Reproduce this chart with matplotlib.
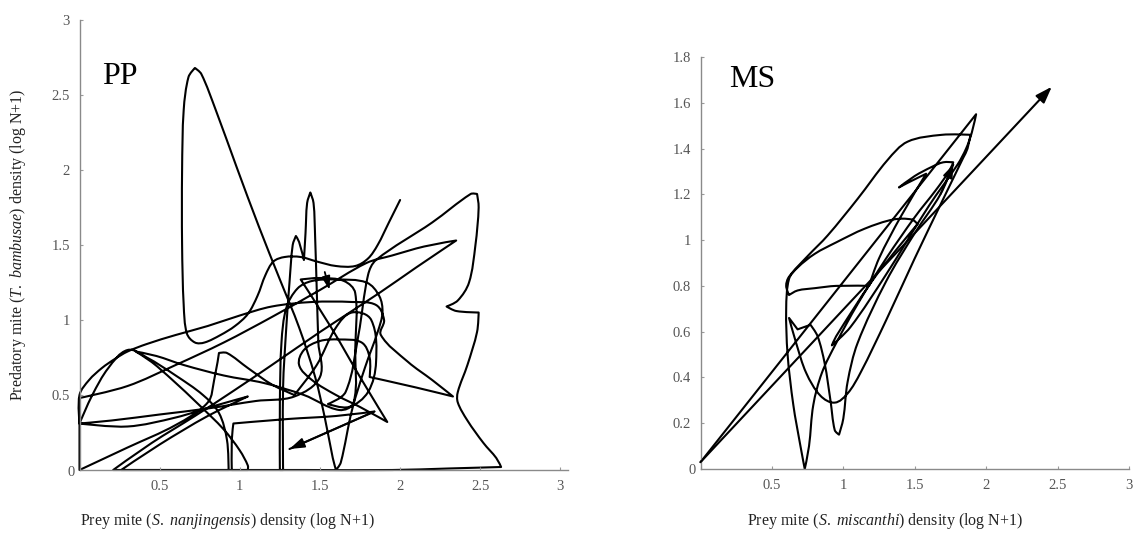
import matplotlib
matplotlib.use("Agg")
import matplotlib.pyplot as plt
import numpy as np
from matplotlib.path import Path
from matplotlib.patches import PathPatch
from matplotlib.transforms import offset_copy

plt.rcParams['font.family'] = ['Liberation Serif', 'DejaVu Serif']
plt.rcParams['mathtext.fontset'] = 'custom'
plt.rcParams['mathtext.rm'] = 'Liberation Serif'
plt.rcParams['mathtext.it'] = 'Liberation Serif:italic'

# ---------------- data: PP panel trajectory (prey, predator) ----------------
pp_trajectory = [
    (2.00, 1.80), (1.93, 1.65), (1.86, 1.50), (1.80, 1.41), (1.72, 1.36), (1.60, 1.36), (1.48, 1.39), (1.38, 1.42),
    (1.28, 1.42), (1.21, 1.39), (1.16, 1.30), (1.11, 1.16), (1.05, 1.04), (0.97, 0.96), (0.88, 0.90), (0.78, 0.85),
    (0.72, 0.85), (0.67, 0.91), (0.65, 1.10), (0.64, 1.50), (0.64, 2.00), (0.65, 2.40), (0.68, 2.62), (0.72, 2.68),
    (0.76, 2.64), (0.85, 2.40), (0.98, 2.02), (1.12, 1.62), (1.25, 1.27), (1.37, 0.95), (1.47, 0.62), (1.53, 0.35),
    (1.58, 0.08), (1.60, 0.00),
    (1.63, 0.05), (1.70, 0.40), (1.78, 0.68), (1.86, 0.92), (1.89, 1.05), (1.87, 1.16), (1.79, 1.25), (1.60, 1.27),
    (1.45, 1.26), (1.36, 1.21), (1.29, 1.08), (1.26, 0.85), (1.25, 0.45), (1.25, 0.00),
    (1.27, 0.00), (1.27, 0.55), (1.29, 0.95), (1.31, 1.25), (1.33, 1.50), (1.35, 1.56), (1.37, 1.52), (1.40, 1.40),
    (1.41, 1.58), (1.42, 1.78), (1.44, 1.85), (1.46, 1.78), (1.47, 1.55), (1.48, 1.20), (1.49, 0.85), (1.50, 0.62),
    (1.34, 0.49),
    (1.10, 0.46), (0.80, 0.41), (0.50, 0.37), (0.20, 0.33), (0.00, 0.31),
    (0.08, 0.50), (0.18, 0.68), (0.30, 0.80), (0.42, 0.75), (0.60, 0.63), (0.77, 0.50), (0.87, 0.38), (0.92, 0.20),
    (0.93, 0.00), (0.60, 0.00), (0.26, 0.00),
    (0.50, 0.17), (0.80, 0.36), (1.05, 0.49),
    (0.85, 0.43), (0.60, 0.35), (0.30, 0.29), (0.00, 0.31), (0.00, 0.50),
    (0.06, 0.60), (0.14, 0.68), (0.22, 0.74), (0.30, 0.79), (0.42, 0.84), (0.60, 0.90), (0.80, 0.96), (1.00, 1.03),
    (1.20, 1.09), (1.45, 1.12), (1.70, 1.12), (1.85, 1.10), (1.90, 1.00), (1.88, 0.90), (2.05, 0.72), (2.20, 0.60),
    (2.33, 0.49),
    (2.10, 0.55), (1.81, 0.62), (1.81, 0.75), (1.76, 0.85), (1.62, 0.87), (1.50, 0.86), (1.40, 0.80), (1.37, 0.70),
    (1.45, 0.60), (1.60, 0.50), (1.75, 0.42), (1.92, 0.32),
    (1.75, 0.62), (1.57, 0.95), (1.38, 1.27),
    (1.50, 1.28), (1.65, 1.26), (1.72, 1.18), (1.72, 0.80), (1.71, 0.45), (1.62, 0.40),
    (1.40, 0.50), (1.15, 0.58), (0.90, 0.63), (0.65, 0.70), (0.48, 0.76), (0.35, 0.79),
    (0.45, 0.72), (0.58, 0.60), (0.74, 0.44), (0.90, 0.27), (1.00, 0.13), (1.05, 0.03), (1.05, 0.00),
    (0.60, 0.00), (0.21, 0.00),
    (0.45, 0.18), (0.72, 0.36), (0.95, 0.52), (1.20, 0.70), (1.50, 0.92), (1.87, 1.18), (2.10, 1.35), (2.35, 1.53),
    (2.15, 1.49), (1.95, 1.43), (1.79, 1.38), (1.50, 1.20), (1.20, 1.02), (0.90, 0.85), (0.60, 0.70), (0.30, 0.56),
    (0.00, 0.48), (0.00, 0.00),
    (0.30, 0.15), (0.60, 0.30), (0.80, 0.45), (0.84, 0.60), (0.87, 0.78), (0.92, 0.78), (1.05, 0.68), (1.20, 0.57),
    (1.34, 0.50),
    (1.48, 0.70), (1.60, 0.95), (1.70, 1.05), (1.82, 1.00), (1.85, 0.72), (1.80, 0.52), (1.68, 0.42), (1.55, 0.44),
    (1.66, 0.52), (1.74, 0.90), (1.80, 1.30), (1.85, 1.40), (2.20, 1.65), (2.44, 1.84), (2.48, 1.84),
    (2.49, 1.75), (2.47, 1.50), (2.43, 1.25), (2.36, 1.13), (2.29, 1.09), (2.35, 1.06), (2.49, 1.05),
    (2.48, 0.92), (2.42, 0.70), (2.36, 0.52), (2.36, 0.45), (2.42, 0.33), (2.52, 0.18), (2.60, 0.08), (2.63, 0.02),
    (2.30, 0.01), (1.95, 0.00), (1.40, 0.00), (0.95, 0.00),
    (0.95, 0.20), (0.96, 0.31), (1.30, 0.34), (1.60, 0.36), (1.84, 0.39), (1.31, 0.14),
]
pp_mid_arrow = [(1.53, 1.32), (1.56, 1.20)]

# ---------------- data: MS panel trajectory (prey, predator) ----------------
ms_trajectory = [
    (0.00, 0.03), (1.93, 1.55), (1.90, 1.47), (1.86, 1.40), (1.80, 1.33), (1.60, 1.15), (1.30, 0.85), (1.05, 0.62),
    (0.92, 0.54),
    (0.95, 0.58), (1.20, 0.82), (1.40, 0.98), (1.52, 1.07), (1.48, 1.09), (1.35, 1.09), (1.15, 1.05), (0.95, 0.99),
    (0.80, 0.94), (0.68, 0.88), (0.62, 0.83),
    (0.60, 0.70), (0.61, 0.50), (0.65, 0.28), (0.70, 0.10), (0.73, 0.00),
    (0.76, 0.10), (0.79, 0.28), (0.85, 0.42), (0.95, 0.55), (1.10, 0.72), (1.30, 0.92), (1.50, 1.10), (1.65, 1.22),
    (1.74, 1.30), (1.77, 1.34),
    (1.70, 1.34), (1.62, 1.32), (1.50, 1.28), (1.39, 1.23), (1.45, 1.25), (1.58, 1.29),
    (1.40, 1.10), (1.25, 0.92), (1.18, 0.80),
    (0.95, 0.80), (0.80, 0.79), (0.68, 0.78), (0.62, 0.76), (0.60, 0.80), (0.62, 0.84),
    (0.75, 0.93), (0.89, 1.02), (1.10, 1.18), (1.31, 1.35), (1.45, 1.43), (1.69, 1.46), (1.89, 1.46), (1.87, 1.40),
    (1.84, 1.36),
    (1.70, 1.18), (1.50, 0.92), (1.30, 0.65), (1.12, 0.42), (1.03, 0.33), (0.94, 0.29), (0.84, 0.32), (0.74, 0.42),
    (0.67, 0.55), (0.62, 0.66),
    (0.68, 0.61), (0.77, 0.63), (0.82, 0.58), (0.87, 0.46), (0.91, 0.30), (0.94, 0.17), (0.97, 0.15), (1.00, 0.22),
    (1.03, 0.38), (1.10, 0.55), (1.30, 0.82), (1.50, 1.03), (1.68, 1.20), (1.77, 1.33),
]
ms_long_arrow = [(0.00, 0.03), (2.46, 1.67)]

x_ticks = [0, 0.5, 1, 1.5, 2, 2.5, 3]
x_tick_labels = ['', '0.5', '1', '1.5', '2', '2.5', '3']
pp_y_ticks = [0.5, 1, 1.5, 2, 2.5, 3]
pp_y_tick_labels = ['0.5', '1', '1.5', '2', '2.5', '3']
ms_y_ticks = [0.2, 0.4, 0.6, 0.8, 1, 1.2, 1.4, 1.6, 1.8]
ms_y_tick_labels = ['0.2', '0.4', '0.6', '0.8', '1', '1.2', '1.4', '1.6', '1.8']

W, H = 1139, 546
fig = plt.figure(figsize=(W / 100, H / 100), dpi=100)


def px_axes(x0, y0, x1, y1):
    return fig.add_axes([x0 / W, 1 - y1 / H, (x1 - x0) / W, (y1 - y0) / H])


def smooth_path(points, sx, sy):
    """Smooth curve through the read points (cubic Bezier, sharp turns kept as corners)."""
    P = np.asarray(points, float) * [sx, sy]
    n = len(P)
    D = np.zeros_like(P)
    for i in range(n):
        if i == 0:
            d = P[1] - P[0]
        elif i == n - 1:
            d = P[-1] - P[-2]
        else:
            a = P[i] - P[i - 1]
            b = P[i + 1] - P[i]
            cos = a @ b / (np.linalg.norm(a) * np.linalg.norm(b) + 1e-9)
            d = np.zeros(2) if cos < 0.4 else (P[i + 1] - P[i - 1])
        nrm = np.linalg.norm(d)
        D[i] = d / nrm if nrm > 0 else 0
    verts = [P[0]]
    codes = [Path.MOVETO]
    for i in range(n - 1):
        L = np.linalg.norm(P[i + 1] - P[i])
        verts += [P[i] + D[i] * L / 3, P[i + 1] - D[i + 1] * L / 3, P[i + 1]]
        codes += [Path.CURVE4] * 3
    V = np.array(verts) / [sx, sy]
    return Path(V, codes)


ax1 = px_axes(79.5, 20, 79.5 + 160.3 * 3.05, 470)
ax1.set_xlim(0, 3.05)
ax1.set_ylim(0, 3.0)
ax2 = px_axes(700.5, 57, 700.5 + 142.8 * 3.0, 469)
ax2.set_xlim(0, 3.0)
ax2.set_ylim(0, 1.8)

tick_col = '#555555'
for ax, yt, ytl in [(ax1, pp_y_ticks, pp_y_tick_labels), (ax2, ms_y_ticks, ms_y_tick_labels)]:
    for s in ['top', 'right']:
        ax.spines[s].set_visible(False)
    for s in ['left', 'bottom']:
        ax.spines[s].set_color('#8a8a8a')
        ax.spines[s].set_linewidth(1.0)
    ax.set_xticks(x_ticks)
    ax.set_xticklabels(x_tick_labels)
    ax.set_yticks(yt)
    ax.set_yticklabels(ytl)
    ax.tick_params(direction='in', length=2.5, width=0.8, color='#999999',
                   labelsize=10.5, labelcolor=tick_col, pad=7)
    ax.set_facecolor('none')
    ax.text(0, 0, '0', transform=offset_copy(ax.transData, fig=fig, x=-8, y=-2, units='dots'),
            ha='center', va='center', fontsize=10.5, color=tick_col)

line_kw = dict(facecolor='none', edgecolor='black', lw=1.5, joinstyle='round', capstyle='round', clip_on=False)

ax1.add_patch(PathPatch(smooth_path(pp_trajectory, 160.3, 150.0), **line_kw))
ax1.annotate('', xy=pp_trajectory[-1], xytext=pp_trajectory[-2],
             arrowprops=dict(arrowstyle='-|>,head_length=0.9,head_width=0.3', color='black', lw=1.3,
                             shrinkA=0, shrinkB=0))
ax1.annotate('', xy=pp_mid_arrow[1], xytext=pp_mid_arrow[0],
             arrowprops=dict(arrowstyle='-|>,head_length=0.8,head_width=0.25', color='black', lw=1.3,
                             shrinkA=0, shrinkB=0))

ax2.add_patch(PathPatch(smooth_path(ms_trajectory, 142.8, 229.0), **line_kw))
ax2.annotate('', xy=ms_trajectory[-1], xytext=ms_trajectory[-2],
             arrowprops=dict(arrowstyle='-|>,head_length=0.8,head_width=0.3', color='black', lw=1.3,
                             shrinkA=0, shrinkB=0))
ax2.annotate('', xy=ms_long_arrow[1], xytext=ms_long_arrow[0],
             arrowprops=dict(arrowstyle='-|>,head_length=1.0,head_width=0.35', color='black', lw=1.5,
                             shrinkA=0, shrinkB=0))

ax1.text(0.14, 2.57, 'PP', fontsize=23, color='black', ha='left', va='baseline')
ax2.text(0.20, 1.67, 'MS', fontsize=23, color='black', ha='left', va='baseline')

fig.text(227 / W, 1 - 521 / H, r'Prey mite ($\mathit{S.\ nanjingensis}$) density (log N+1)',
         ha='center', va='center', fontsize=11.5, color='#222222')
fig.text(885 / W, 1 - 521 / H, r'Prey mite ($\mathit{S.\ miscanthi}$) density (log N+1)',
         ha='center', va='center', fontsize=11.5, color='#222222')
fig.text(18 / W, 1 - 245 / H, r'Predatory mite ($\mathit{T.\ bambusae}$) density (log N+1)',
         ha='center', va='center', rotation=90, fontsize=11.5, color='#222222')

fig.savefig('out.png', dpi=100)
